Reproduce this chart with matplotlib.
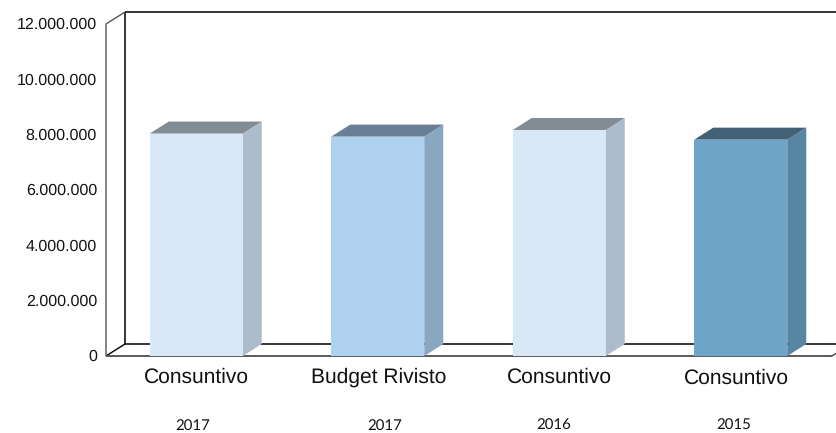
import matplotlib
matplotlib.use("Agg")
import matplotlib.pyplot as plt
from matplotlib.patches import Polygon

plt.rcParams["text.hinting"] = "no_hinting"
plt.rcParams["text.hinting_factor"] = 1

W, H = 836, 433

categories = ["Consuntivo", "Budget Rivisto", "Consuntivo", "Consuntivo"]
years = ["2017", "2017", "2016", "2015"]
values = [8040000, 7930000, 8170000, 7820000]
yticks = [0, 2000000, 4000000, 6000000, 8000000, 10000000, 12000000]
ytick_labels = ["0", "2.000.000", "4.000.000", "6.000.000", "8.000.000", "10.000.000", "12.000.000"]

front_colors = ["#D9E8F7", "#AED1EF", "#D9E8F7", "#6EA5C8"]
side_colors = ["#ADBCCB", "#8AA7C2", "#ADBCCB", "#5785A3"]
top_colors = ["#828C94", "#697F95", "#828C94", "#426076"]

fig = plt.figure(figsize=(W / 100, H / 100), dpi=100)
# axes box is the front plane of the fake 3D chart
ax = fig.add_axes([106 / W, 1 - 356 / H, 726 / W, 332 / H])
ax.set_xlim(0, 4)
ax.set_ylim(0, 12000000)
ax.axis("off")

# depth of the 3D effect, in data units
dx = 19 / 181.5
dy = 12 / 332 * 12000000
bar_w = 93 / 181.5
nudge = -0.5 / 181.5  # bars sit half a pixel left of the category centre
ymax = 12000000

line_kw = dict(clip_on=False, solid_capstyle="butt", zorder=1)
ax.plot([dx, dx], [dy, ymax + dy], color="black", lw=1.1, **line_kw)
ax.plot([dx, 4.3], [ymax + dy, ymax + dy], color="black", lw=1.1, **line_kw)
ax.plot([dx, 4.3], [dy, dy], color="black", lw=1.1, **line_kw)
ax.plot([0, dx], [0, dy], color="black", lw=1.0, **line_kw)
ax.plot([0, dx], [ymax, ymax + dy], color="#555555", lw=1.0, **line_kw)
ax.plot([0, 0], [0, ymax], color="#707070", lw=1.2, **line_kw)
ax.plot([0, 4], [0, 0], color="#404040", lw=1.2, **line_kw)
ax.plot([4, 4 + dx], [0, dy], color="#404040", lw=1.0, **line_kw)

for i, v in enumerate(values):
    xc = i + 0.5 + nudge
    x0 = xc - bar_w / 2
    x1 = xc + bar_w / 2
    ax.add_patch(Polygon([(x1, 0), (x1 + dx, dy), (x1 + dx, v + dy), (x1, v)],
                         fc=side_colors[i], ec="none", clip_on=False, zorder=3))
    ax.add_patch(Polygon([(x0, v), (x0 + dx, v + dy), (x1 + dx, v + dy), (x1, v)],
                         fc=top_colors[i], ec="none", clip_on=False, zorder=3))
    ax.bar(xc, v, width=bar_w, color=front_colors[i], zorder=4, clip_on=False)

# y labels
for t, lab in zip(yticks, ytick_labels):
    ax.annotate(lab, (0, t), xytext=(-9, -1), textcoords="offset pixels", ha="right", va="center",
                fontsize=11.6, family="Liberation Sans", color="#111111", annotation_clip=False)

# labels sit a little unevenly in the original, pixel nudges per category
label_dx = [0, 0.5, -0.5, -5]
label_dy = [-27, -27, -27, -28]
year_dx = [-4, 6, -6, -8]
for i, (c, y) in enumerate(zip(categories, years)):
    ax.annotate(c, (i + 0.5, 0), xytext=(label_dx[i], label_dy[i]), textcoords="offset pixels",
                ha="center", va="baseline", fontsize=14.9, family="Liberation Sans",
                color="#111111", annotation_clip=False)
    ax.annotate(y, (i + 0.5, 0), xytext=(year_dx[i], -74), textcoords="offset pixels",
                ha="center", va="baseline", fontsize=11, family="Lato",
                color="#111111", annotation_clip=False)

fig.savefig("out.png", dpi=100, facecolor="white")
